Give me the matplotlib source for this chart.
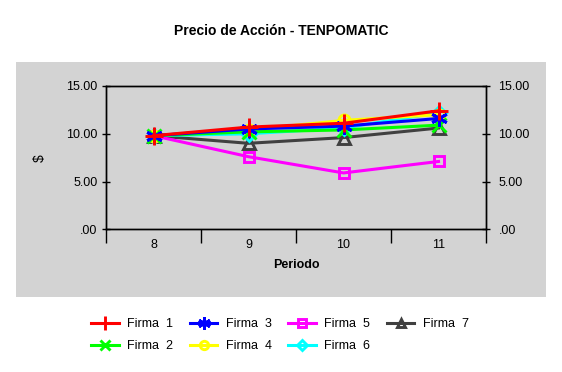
import matplotlib
matplotlib.use("Agg")
import matplotlib.pyplot as plt
from matplotlib.patches import Rectangle
from matplotlib.ticker import FuncFormatter, FixedLocator

plt.rcParams['font.family'] = ['Liberation Sans', 'DejaVu Sans']

periods = ['8', '9', '10', '11']
firma1 = [9.8, 10.7, 11.1, 12.4]
firma2 = [9.8, 10.2, 10.4, 10.9]
firma3 = [9.8, 10.5, 10.8, 11.6]
firma4 = [9.8, 10.4, 11.4, 12.0]
firma5 = [9.8, 7.6, 5.9, 7.1]
firma6 = [9.8, 10.0, 10.6, 12.2]
firma7 = [9.8, 9.0, 9.6, 10.6]
labels = ['Firma  1', 'Firma  2', 'Firma  3', 'Firma  4', 'Firma  5', 'Firma  6', 'Firma  7']
yticks = [0, 5, 10, 15]

W, H = 562, 372
fig = plt.figure(figsize=(W / 100, H / 100), dpi=100, facecolor='white')
fig.patches.append(Rectangle((16 / W, 1 - 297 / H), 530 / W, 235 / H,
                             transform=fig.transFigure, facecolor='#d3d3d3',
                             edgecolor='none', zorder=-5))

ax = fig.add_axes([106 / W, 1 - 229.3 / H, 380 / W, 143.3 / H])
ax.set_facecolor('#d3d3d3')
x = list(range(len(periods)))

# (values, color, marker, filled, size)
series = [
    (firma1, '#ff0000', '+', True, 13),
    (firma2, '#00ff00', 'x', True, 10),
    (firma3, '#0000ff', (6, 2, 0), True, 12),
    (firma4, '#ffff00', 'o', False, 8),
    (firma5, '#ff00ff', 's', False, 7),
    (firma6, '#00ffff', 'D', False, 7),
    (firma7, '#404040', '^', False, 8),
]
z = {0: 9, 1: 7, 2: 8, 3: 6, 4: 5, 5: 4, 6: 3}
handles = []
for i, (vals, col, mk, filled, ms) in enumerate(series):
    h, = ax.plot(x, vals, color=col, lw=2.2, marker=mk, markersize=ms,
                 markeredgewidth=2.1, markerfacecolor=col if filled else 'none',
                 markeredgecolor=col, zorder=z[i], clip_on=False)
    handles.append(h)

ax.set_xlim(-0.5, 3.5)
ax.set_ylim(0, 15)
ax.set_xticks(x)
ax.set_xticklabels(periods, fontsize=9)
ax.xaxis.set_minor_locator(FixedLocator([-0.5, 0.5, 1.5, 2.5, 3.5]))
ax.tick_params(axis='x', which='major', length=0, pad=7)
ax.tick_params(axis='x', which='minor', length=10, width=1, direction='out')

fmt = FuncFormatter(lambda v, p: ('%.2f' % v).lstrip('0') if v < 1 else '%.2f' % v)
ax.set_yticks(yticks)
ax.yaxis.set_major_formatter(fmt)
ax.tick_params(axis='y', direction='inout', length=6, width=1, labelsize=9, pad=3)

ax2 = ax.twinx()
ax2.set_ylim(0, 15)
ax2.set_yticks(yticks)
ax2.yaxis.set_major_formatter(fmt)
ax2.tick_params(axis='y', direction='inout', length=6, width=1, labelsize=9, pad=6)

for a in (ax, ax2):
    for s in a.spines.values():
        s.set_linewidth(1)
        s.set_color('black')

ax.set_xlabel('Periodo', fontsize=9, fontweight='bold', labelpad=6)
ax.set_ylabel('$', fontsize=10, labelpad=14)
fig.text(281 / W, 1 - 31 / H, 'Precio de Acción - TENPOMATIC', ha='center', va='center',
         fontsize=10, fontweight='bold')

fig.legend(handles, labels, loc='upper center', bbox_to_anchor=(280 / W, 1 - 312 / H),
           ncol=4, frameon=False, fontsize=9, handlelength=2.2, handletextpad=0.65,
           columnspacing=1.35, labelspacing=0.8, borderpad=0, markerscale=0.75)

fig.savefig('out.png', dpi=100, facecolor='white')
